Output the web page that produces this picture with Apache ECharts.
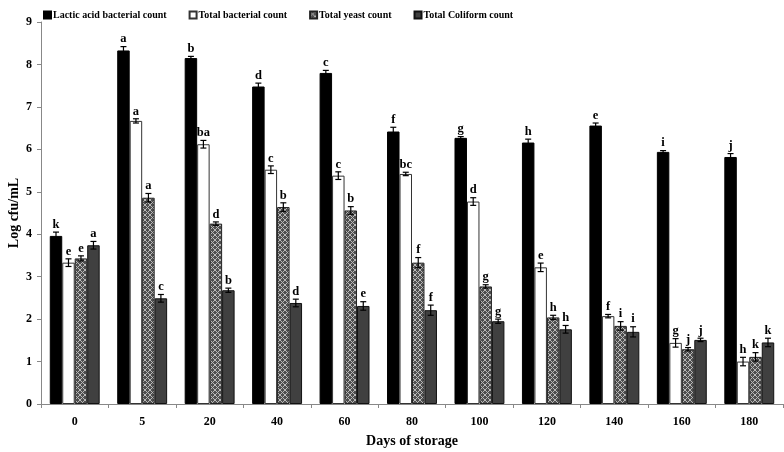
<!DOCTYPE html>
<html><head><meta charset="utf-8">
<script src="https://cdn.jsdelivr.net/npm/echarts@6/dist/echarts.min.js"></script>
<style>html,body{margin:0;padding:0;background:#fff}#c{width:784px;height:452px}</style>
</head><body><div id="c"></div>
<script>
// ---- data ----
const days = ['0','5','20','40','60','80','100','120','140','160','180'];
const yTicks = [0,1,2,3,4,5,6,7,8,9];
const seriesNames = ['Lactic acid bacterial count','Total bacterial count','Total yeast count','Total Coliform count'];

const labValues  = [3.96, 8.33, 8.15, 7.48, 7.80, 6.42, 6.27, 6.16, 6.56, 5.94, 5.82];
const labErrors  = [0.09, 0.09, 0.04, 0.08, 0.06, 0.10, 0.03, 0.08, 0.06, 0.03, 0.08];
const labLetters = ['k','a','b','d','c','f','g','h','e','i','j'];

const tbcValues  = [3.33, 6.67, 6.12, 5.52, 5.38, 5.42, 4.77, 3.22, 2.07, 1.44, 1.00];
const tbcErrors  = [0.09, 0.05, 0.09, 0.09, 0.09, 0.04, 0.09, 0.10, 0.04, 0.10, 0.10];
const tbcLetters = ['e','a','ba','c','c','bc','d','e','f','g','h'];

const yeastValues  = [3.43, 4.86, 4.25, 4.64, 4.56, 3.33, 2.77, 2.04, 1.84, 1.29, 1.11];
const yeastErrors  = [0.06, 0.10, 0.04, 0.10, 0.09, 0.12, 0.04, 0.05, 0.10, 0.04, 0.10];
const yeastLetters = ['e','a','d','b','b','f','g','h','i','j','k'];

const coliValues  = [3.74, 2.49, 2.68, 2.38, 2.31, 2.21, 1.95, 1.76, 1.70, 1.51, 1.45];
const coliErrors  = [0.09, 0.09, 0.05, 0.09, 0.10, 0.12, 0.05, 0.09, 0.12, 0.04, 0.10];
const coliLetters = ['a','c','b','d','e','f','g','h','i','j','k'];

// ---- styling helpers ----
const SERIF = '"Liberation Serif","Times New Roman",serif';
const CAT_GAP = 0.26;

function makePattern(){
  const c = document.createElement('canvas'); c.width = 5; c.height = 5;
  const g = c.getContext('2d');
  g.fillStyle = '#4e4e4e'; g.fillRect(0,0,5,5);
  g.strokeStyle = '#b8b8b8'; g.lineWidth = 1;
  g.beginPath();
  g.moveTo(0,0); g.lineTo(5,5);
  g.moveTo(5,0); g.lineTo(0,5);
  g.stroke();
  return c;
}
const yeastFill = {image: makePattern(), repeat: 'repeat'};

const valuesList  = [labValues, tbcValues, yeastValues, coliValues];
const errorsList  = [labErrors, tbcErrors, yeastErrors, coliErrors];
const lettersList = [labLetters, tbcLetters, yeastLetters, coliLetters];
const fills   = ['#000000', '#ffffff', yeastFill, '#404040'];
const borders = ['#000000', '#333333', '#222222', '#111111'];

const series = [];
seriesNames.forEach((name, si) => {
  series.push({
    type: 'bar', name: name,
    data: valuesList[si],
    barGap: '0%', barCategoryGap: (CAT_GAP*100) + '%',
    itemStyle: {color: fills[si], borderColor: borders[si], borderWidth: 1},
    emphasis: {disabled: true}
  });
});
seriesNames.forEach((name, si) => {
  const vals = valuesList[si], errs = errorsList[si], letters = lettersList[si];
  series.push({
    type: 'custom', silent: true, z: 10,
    data: vals.map((v, i) => [i, v, errs[i]]),
    encode: {x: 0, y: 1},
    renderItem: (params, api) => {
      const ci = api.value(0), v = api.value(1), e = api.value(2);
      const band = api.size([1, 0])[0];
      const bw = band * (1 - CAT_GAP) / 4;
      const c = api.coord([ci, v]);
      const x = c[0] + (si - 1.5) * bw;
      const top = api.coord([ci, v + e])[1];
      const bot = api.coord([ci, v - e])[1];
      const cap = 3;
      const ls = {stroke: '#000', lineWidth: 1.2};
      return {type: 'group', children: [
        {type: 'line', shape: {x1: x, y1: top, x2: x, y2: bot}, style: ls},
        {type: 'line', shape: {x1: x - cap, y1: top, x2: x + cap, y2: top}, style: ls},
        {type: 'line', shape: {x1: x - cap, y1: bot, x2: x + cap, y2: bot}, style: ls},
        {type: 'text', x: x, y: top - 1,
         style: {text: letters[params.dataIndex], align: 'center', verticalAlign: 'bottom',
                 textAlign: 'center', textVerticalAlign: 'bottom',
                 font: 'bold 12.5px ' + SERIF, fill: '#000'}}
      ]};
    }
  });
});

const chart = echarts.init(document.getElementById('c'), null, {renderer: 'canvas'});
chart.setOption({
  animation: false,
  backgroundColor: '#fff',
  grid: {left: 41, right: 1, top: 22, bottom: 48, containLabel: false, outerBoundsMode: 'none'},
  legend: {
    data: seriesNames, top: 5, left: 38,
    itemWidth: 7, itemHeight: 7, itemGap: 22,
    icon: 'rect',
    textStyle: {fontFamily: SERIF, fontWeight: 'bold', fontSize: 10, color: '#000', padding: [0,0,0,-3]}
  },
  xAxis: {
    type: 'category', data: days,
    name: 'Days of storage', nameLocation: 'middle', nameGap: 30,
    nameTextStyle: {fontFamily: SERIF, fontWeight: 'bold', fontSize: 14, color: '#000'},
    axisLine: {lineStyle: {color: '#888', width: 1}},
    axisTick: {show: true, length: 4, lineStyle: {color: '#888'}},
    axisLabel: {fontFamily: SERIF, fontWeight: 'bold', fontSize: 12, color: '#000', margin: 12}
  },
  yAxis: {
    type: 'value', min: yTicks[0], max: yTicks[yTicks.length-1], interval: 1,
    name: 'Log cfu/mL', nameLocation: 'middle', nameGap: 20, nameRotate: 90,
    nameMoveOverlap: false,
    nameTextStyle: {fontFamily: SERIF, fontWeight: 'bold', fontSize: 14, color: '#000'},
    splitLine: {show: false},
    axisLine: {show: true, lineStyle: {color: '#888', width: 1}},
    axisTick: {show: true, length: 4, lineStyle: {color: '#888'}},
    axisLabel: {fontFamily: SERIF, fontWeight: 'bold', fontSize: 12, color: '#000', margin: 9}
  },
  series: series
});
</script>
</body></html>
